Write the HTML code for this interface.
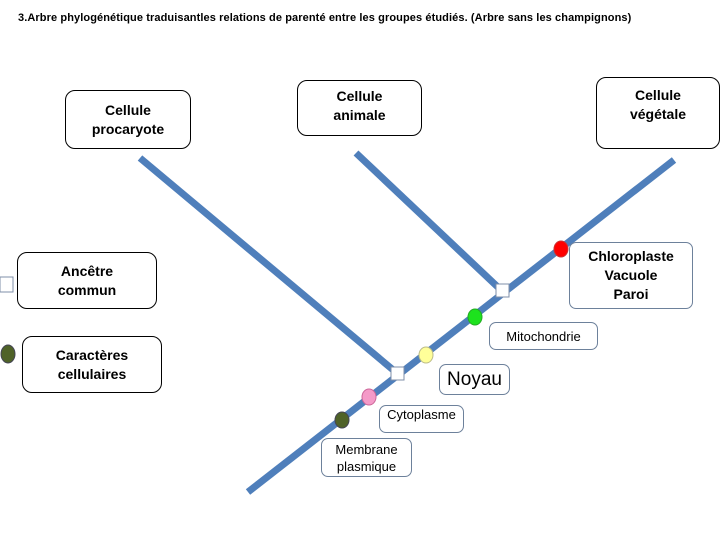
<!DOCTYPE html>
<html><head><meta charset="utf-8"><style>
body{margin:0;width:720px;height:540px;background:#fff;position:relative;overflow:hidden;font-family:"Liberation Sans",sans-serif}
.b{position:absolute;border:1px solid #000;border-radius:10px;background:#fff;display:flex;align-items:center;justify-content:center;text-align:center;font-weight:bold;font-size:14px;line-height:19px;color:#000}
.g{border-color:#6d819b;border-radius:7px}
</style></head><body>
<div style="position:absolute;left:18px;top:12px;font-size:11px;font-weight:bold;letter-spacing:0.1px;white-space:nowrap">3.Arbre phylogénétique traduisantles relations de parenté entre les groupes étudiés. (Arbre sans les champignons)</div>
<svg width="720" height="540" style="position:absolute;left:0;top:0">
<g stroke="#4f7fbb" stroke-width="7" stroke-linecap="butt">
<line x1="248" y1="492" x2="674" y2="160"/>
<line x1="140" y1="158" x2="398" y2="374"/>
<line x1="356" y1="153" x2="502" y2="291"/>
</g>
<rect x="496" y="284" width="13" height="13" fill="#fff" stroke="#7f8fa8"/>
<rect x="391" y="367" width="13" height="13" fill="#fff" stroke="#7f8fa8"/>
<rect x="0" y="277" width="13" height="15" fill="#fff" stroke="#7f8fa8"/>
<ellipse cx="561" cy="249" rx="7" ry="8" fill="#f00" stroke="#c33"/>
<ellipse cx="475" cy="317" rx="7" ry="8" fill="#1de21d" stroke="#2a2"/>
<ellipse cx="426" cy="355" rx="7" ry="8" fill="#ffff99" stroke="#bb8"/>
<ellipse cx="369" cy="397" rx="7" ry="8" fill="#f49ac8" stroke="#c69"/>
<ellipse cx="342" cy="420" rx="7" ry="8" fill="#4f6228" stroke="#445"/>
<ellipse cx="8" cy="354" rx="7" ry="9" fill="#4f6228" stroke="#445"/>
</svg>
<div class="b" style="left:65px;top:90px;width:124px;height:57px">Cellule<br>procaryote</div>
<div class="b" style="left:297px;top:80px;width:123px;height:54px;align-items:flex-start;padding-top:0"><div style="margin-top:6px">Cellule<br>animale</div></div>
<div class="b" style="left:596px;top:77px;width:122px;height:70px;align-items:flex-start"><div style="margin-top:8px">Cellule<br>végétale</div></div>
<div class="b" style="left:17px;top:252px;width:138px;height:55px">Ancêtre<br>commun</div>
<div class="b" style="left:22px;top:336px;width:138px;height:55px">Caractères<br>cellulaires</div>
<div class="b g" style="left:569px;top:242px;width:122px;height:65px">Chloroplaste<br>Vacuole<br>Paroi</div>
<div class="b g" style="left:489px;top:322px;width:107px;height:26px;font-weight:normal;font-size:13px">Mitochondrie</div>
<div class="b g" style="left:439px;top:364px;width:69px;height:29px;font-weight:normal;font-size:19px">Noyau</div>
<div class="b g" style="left:379px;top:405px;width:83px;height:26px;font-weight:normal;font-size:13px;align-items:flex-start;line-height:18px">Cytoplasme</div>
<div class="b g" style="left:321px;top:438px;width:89px;height:37px;font-weight:normal;font-size:13px;line-height:17px">Membrane<br>plasmique</div>
</body></html>
